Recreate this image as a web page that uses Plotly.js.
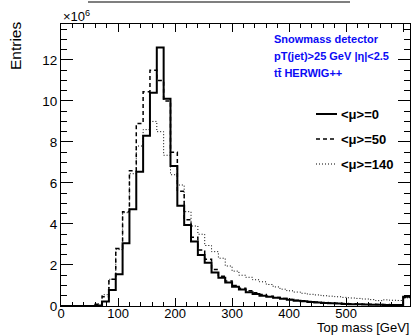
<!DOCTYPE html>
<html>
<head>
<meta charset="utf-8">
<script src="https://cdn.plot.ly/plotly-3.0.1.min.js"></script>
<style>
  html, body { margin: 0; padding: 0; background: #fff; }
  #chart { width: 413px; height: 335px; }
</style>
</head>
<body>
<div id="chart"></div>
<script>
// Bin low edges (GeV), 12 GeV bins; last edge closes the final bin
const binLow = [0,12,24,36,48,60,72,84,96,108,120,132,144,156,168,180,192,204,216,228,240,252,264,276,288,300,312,324,336,348,360,372,384,396,408,420,432,444,456,468,480,492,504,516,528,540,552,564,576,588,600];
const binHighEnd = 612;

// Entries in units of 10^6
const mu0 = [0,0,0,0,0,0.03,0.22,0.78,1.55,3.06,4.72,6.55,8.3,10.4,12.6,10.1,6.83,4.89,3.95,3.14,2.49,2.11,1.63,1.38,1.14,0.94,0.81,0.67,0.58,0.5,0.45,0.4,0.35,0.3,0.26,0.23,0.2,0.17,0.15,0.13,0.12,0.1,0.09,0.08,0.07,0.06,0.06,0.05,0.05,0.05,0.45];
const mu50 = [0,0,0,0,0,0.08,0.45,1.3,2.8,4.6,6.6,8.9,10.45,11.5,11.0,10.0,7.5,5.6,4.2,3.35,2.73,2.28,1.78,1.45,1.22,1.0,0.87,0.74,0.64,0.56,0.48,0.42,0.37,0.32,0.28,0.25,0.22,0.19,0.17,0.15,0.13,0.12,0.11,0.1,0.09,0.08,0.07,0.07,0.06,0.06,0.42];
const mu140 = [0,0,0,0,0,0.1,0.55,1.3,2.75,4.55,6.45,7.8,8.6,9.0,8.5,7.35,6.4,5.9,4.6,3.9,3.5,2.95,2.65,2.33,1.95,1.7,1.5,1.4,1.28,1.18,1.05,0.93,0.82,0.74,0.68,0.62,0.57,0.54,0.5,0.48,0.45,0.42,0.39,0.37,0.34,0.31,0.26,0.3,0.28,0.27,0.4];

const xTickVals = [0,100,200,300,400,500,600];
const yTickVals = [0,2,4,6,8,10,12];
const legendLabels = ["<μ>=0", "<μ>=50", "<μ>=140"];
const infoLines = ["Snowmass detector", "pT(jet)>25 GeV |η|<2.5", "tt\u0304 HERWIG++"];

const FONT = "Liberation Sans, Arial, Helvetica, sans-serif";

function stepTrace(vals, width, dash) {
  return {
    type: 'scatter', mode: 'lines',
    x: binLow.concat([binHighEnd]),
    y: vals.concat([vals[vals.length - 1]]),
    line: { shape: 'hv', color: '#000', width: width, dash: dash },
    hoverinfo: 'skip', showlegend: false
  };
}

const traces = [
  stepTrace(mu140, 1, '1px,2px'),
  stepTrace(mu50, 1.5, '4px,3px'),
  stepTrace(mu0, 2, 'solid')
];

// plot area geometry (pixels) for paper-coordinate placement
const L = 61, R = 410, T = 24, B = 306, W = 413, H = 335;
const px = x => (x - L) / (R - L);
const py = y => (B - y) / (B - T);

const annotations = [
  { text: '×10<sup>6</sup>', xref: 'paper', yref: 'paper', x: 0, y: 1, xanchor: 'left', yanchor: 'bottom',
    showarrow: false, font: { family: FONT, size: 13, color: '#000' }, yshift: -2 },
  { text: 'Entries', xref: 'paper', yref: 'paper', x: px(15), y: py(46), textangle: -90,
    xanchor: 'center', yanchor: 'middle', showarrow: false, font: { family: FONT, size: 15.5, color: '#000' } },
  { text: 'Top mass [GeV]', xref: 'paper', yref: 'paper', x: px(410), y: py(327.5), xanchor: 'right', yanchor: 'middle',
    showarrow: false, borderpad: 0, font: { family: FONT, size: 13, color: '#000' } }
];
const infoY = [39, 56, 73];
infoLines.forEach((t, i) => annotations.push({
  text: '<b>' + t + '</b>', xref: 'paper', yref: 'paper', x: px(272), y: py(infoY[i]),
  xanchor: 'left', yanchor: 'middle', showarrow: false, font: { family: FONT, size: 11, color: '#0a0af5' }
}));
const legY = [114, 139, 164];
const legDash = ['solid', '4px,3px', '1px,2px'];
const legW = [2, 1.5, 1];
const shapes = [
  { type: 'line', xref: 'paper', yref: 'paper', x0: px(88), x1: px(350), y0: py(2), y1: py(2),
    line: { color: '#555', width: 1.5 } }
];
legendLabels.forEach((t, i) => {
  annotations.push({ text: '<b>' + t + '</b>', xref: 'paper', yref: 'paper', x: px(339), y: py(legY[i]),
    xanchor: 'left', yanchor: 'middle', showarrow: false, font: { family: FONT, size: 13, color: '#000' } });
  shapes.push({ type: 'line', xref: 'paper', yref: 'paper', x0: px(316), x1: px(337), y0: py(legY[i]), y1: py(legY[i]),
    line: { color: '#000', width: legW[i], dash: legDash[i] } });
});

const layout = {
  width: W, height: H,
  margin: { l: L, r: W - R, t: T, b: H - B, pad: 0 },
  paper_bgcolor: '#fff', plot_bgcolor: '#fff',
  showlegend: false,
  font: { family: FONT, color: '#000' },
  xaxis: {
    range: [0, binHighEnd], tickmode: 'array', tickvals: xTickVals, ticktext: xTickVals.map(String),
    ticks: 'inside', ticklen: 8, tickwidth: 1, tickcolor: '#000', ticklabelstandoff: -5,
    minor: { dtick: 20, ticks: 'inside', ticklen: 4, tickwidth: 1, tickcolor: '#000', showgrid: false },
    showline: true, linecolor: '#000', linewidth: 1, mirror: 'ticks',
    showgrid: false, zeroline: false, tickfont: { family: FONT, size: 13, color: '#000' }
  },
  yaxis: {
    range: [0, 13.75], tickmode: 'array', tickvals: yTickVals, ticktext: yTickVals.map(String),
    ticks: 'inside', ticklen: 12, tickwidth: 1, tickcolor: '#000',
    minor: { dtick: 0.5, ticks: 'inside', ticklen: 6, tickwidth: 1, tickcolor: '#000', showgrid: false },
    showline: true, linecolor: '#000', linewidth: 1, mirror: 'ticks',
    showgrid: false, zeroline: false, tickfont: { family: FONT, size: 13.5, color: '#000' }
  },
  annotations: annotations,
  shapes: shapes
};

Plotly.newPlot('chart', traces, layout, { displayModeBar: false, staticPlot: true });
</script>
</body>
</html>
